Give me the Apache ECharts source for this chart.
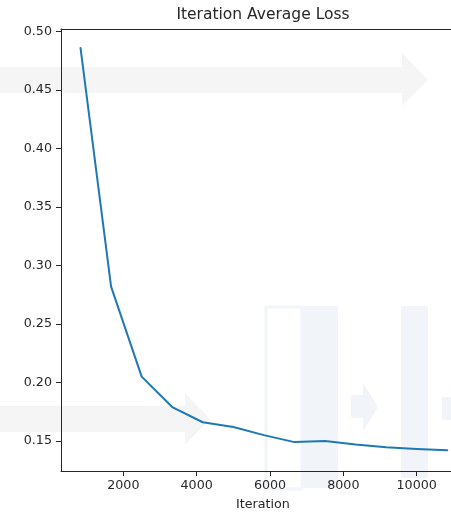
<!DOCTYPE html>
<html>
<head>
<meta charset="utf-8">
<title>Iteration Average Loss</title>
<script src="https://cdn.jsdelivr.net/npm/echarts@6/dist/echarts.min.js"></script>
<style>
  html, body { margin: 0; padding: 0; background: #ffffff; }
  #chart { width: 451px; height: 516px; }
</style>
</head>
<body>
<div id="chart"></div>
<script>
// Training loss averaged over each logging window
const iterations = [833, 1666, 2500, 3333, 4166, 5000, 5833, 6666, 7500, 8333, 9166, 10000, 10833];
const avgLoss = [0.486, 0.282, 0.205, 0.179, 0.166, 0.162, 0.155, 0.149, 0.150, 0.147, 0.1446, 0.1432, 0.1421];

// Tick labels
const xTicks = [2000, 4000, 6000, 8000, 10000];
const yTicks = [0.15, 0.20, 0.25, 0.30, 0.35, 0.40, 0.45, 0.50];

const FONT = 'DejaVu Sans';
const INK = '#262626';
const ARROW = '#f5f5f5';
const BAR = '#f1f4f8';

const chart = echarts.init(document.getElementById('chart'), null, { renderer: 'canvas' });

const points = iterations.map((it, i) => [it, avgLoss[i]]);

// Faint background decoration behind the plot
const backdrop = [
  { type: 'polygon', z: -10, shape: { points: [[0, 67], [402, 67], [402, 53], [428, 80], [402, 106], [402, 93], [0, 93]] }, style: { fill: ARROW } },
  { type: 'polygon', z: -10, shape: { points: [[0, 406], [185, 406], [185, 393], [210, 419], [185, 445], [185, 432], [0, 432]] }, style: { fill: ARROW } },
  { type: 'rect', z: -10, shape: { x: 266, y: 307, width: 36, height: 182 }, style: { fill: '#ffffff', stroke: BAR, lineWidth: 3 } },
  { type: 'rect', z: -10, shape: { x: 302, y: 306, width: 36, height: 182 }, style: { fill: BAR } },
  { type: 'rect', z: -10, shape: { x: 401, y: 306, width: 27, height: 172 }, style: { fill: BAR } },
  { type: 'polygon', z: -10, shape: { points: [[351, 395], [363, 395], [363, 383], [378, 407], [363, 431], [363, 418], [351, 418]] }, style: { fill: BAR } },
  { type: 'rect', z: -10, shape: { x: 442, y: 397, width: 10, height: 23 }, style: { fill: BAR } }
];

const option = {
  backgroundColor: '#ffffff',
  animation: false,
  graphic: backdrop.concat([
    { type: 'text', x: 263, y: 15, z: 10,
      style: { text: 'Iteration Average Loss', fontFamily: FONT, fontSize: 15.5, fill: INK, align: 'center', verticalAlign: 'middle' } },
    { type: 'text', x: 263, y: 505, z: 10,
      style: { text: 'Iteration', fontFamily: FONT, fontSize: 12.7, fill: INK, align: 'center', verticalAlign: 'middle' } }
  ]),
  grid: { left: 61, right: 0, top: 29, bottom: 45, containLabel: false },
  xAxis: [
    {
      type: 'value',
      min: 300,
      max: 10935,
      position: 'bottom',
      splitLine: { show: false },
      axisLine: { show: true, onZero: false, lineStyle: { color: INK, width: 1 } },
      axisTick: { show: true, length: 5, lineStyle: { color: INK, width: 1 }, customValues: xTicks },
      axisLabel: { show: true, margin: 8, color: INK, fontFamily: FONT, fontSize: 12.7, customValues: xTicks,
        formatter: v => String(v) }
    },
    {
      type: 'value',
      min: 300,
      max: 10935,
      position: 'top',
      splitLine: { show: false },
      axisLine: { show: true, onZero: false, lineStyle: { color: INK, width: 1 } },
      axisTick: { show: false },
      axisLabel: { show: false }
    }
  ],
  yAxis: {
    type: 'value',
    min: 0.1243,
    max: 0.5023,
    splitLine: { show: false },
    axisLine: { show: true, onZero: false, lineStyle: { color: INK, width: 1 } },
    axisTick: { show: true, length: 5, lineStyle: { color: INK, width: 1 }, customValues: yTicks },
    axisLabel: { show: true, margin: 9, color: INK, fontFamily: FONT, fontSize: 12.7, customValues: yTicks,
      formatter: v => v.toFixed(2) }
  },
  series: [
    {
      type: 'line',
      xAxisIndex: 0,
      data: points,
      showSymbol: false,
      symbol: 'none',
      clip: true,
      lineStyle: { color: '#1f77b4', width: 2, cap: 'round', join: 'round' },
      z: 3
    }
  ]
};

chart.setOption(option);
</script>
</body>
</html>
